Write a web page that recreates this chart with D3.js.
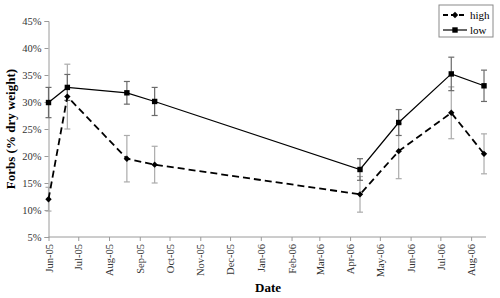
<!DOCTYPE html>
<html>
<head>
<meta charset="utf-8">
<script src="https://cdn.jsdelivr.net/npm/d3@7"></script>
<style>
  body { margin: 0; background: #fff; }
  svg, svg text { font-family: "Liberation Serif", "Times New Roman", serif; }
</style>
</head>
<body>
<div id="chart"></div>
<script>
// sampling dates and forb content (% dry weight), mean and error
const DATES = ['2005-06-01', '2005-06-20', '2005-08-19', '2005-09-16',
               '2006-04-11', '2006-05-20', '2006-07-12', '2006-08-14'];
const HIGH = [12.0, 31.0, 19.5, 18.4, 12.9, 20.9, 28.0, 20.4];
const HIGH_ERR = [2.2, 6.0, 4.3, 3.4, 3.3, 5.1, 4.8, 3.7];
const LOW = [29.9, 32.7, 31.7, 30.1, 17.5, 26.2, 35.2, 33.0];
const LOW_ERR = [2.8, 2.4, 2.1, 2.6, 2.0, 2.4, 3.1, 2.9];
const Y_TICKS = [5, 10, 15, 20, 25, 30, 35, 40, 45];
const X_START = '2005-06-01';
const X_END = '2006-08-16';

const WIDTH = 500;
const HEIGHT = 298;
const PLOT = { left: 48.5, right: 486, top: 21, bottom: 237 };
const AXIS_COLOR = '#9a9a9a';
const FONT = '"Liberation Serif", "Times New Roman", serif';

const parse = d3.timeParse('%Y-%m-%d');

const series = [
  { name: 'high', values: HIGH, errs: HIGH_ERR, dash: '7,4', width: 1.8, marker: 'diamond', errColor: '#ababab' },
  { name: 'low', values: LOW, errs: LOW_ERR, dash: null, width: 1.2, marker: 'square', errColor: '#6a6a6a' }
];

const svg = d3.select('#chart')
  .append('svg')
  .attr('width', WIDTH)
  .attr('height', HEIGHT);

const x = d3.scaleTime()
  .domain([parse(X_START), parse(X_END)])
  .range([PLOT.left, PLOT.right]);

const y = d3.scaleLinear()
  .domain([5, 45])
  .range([PLOT.bottom, PLOT.top]);

// y axis
const yAxis = svg.append('g')
  .attr('transform', `translate(${PLOT.left},0)`)
  .call(d3.axisLeft(y).tickValues(Y_TICKS).tickSize(4).tickPadding(3).tickFormat(d => d + '%'));
yAxis.attr('font-family', null).style('font-family', FONT);
yAxis.selectAll('path, line').attr('stroke', AXIS_COLOR);
yAxis.selectAll('text').attr('font-size', '10.5px').attr('fill', '#333').style('font-family', FONT);

// x axis, monthly ticks
const xAxis = svg.append('g')
  .attr('transform', `translate(0,${PLOT.bottom})`)
  .call(d3.axisBottom(x).ticks(d3.timeMonth.every(1)).tickSize(4).tickFormat(d3.timeFormat('%b-%y')));
xAxis.attr('font-family', null).style('font-family', FONT);
xAxis.select('.domain').attr('d', `M${PLOT.left},0H${PLOT.right}`);
xAxis.selectAll('path, line').attr('stroke', AXIS_COLOR);
xAxis.selectAll('text')
  .attr('font-size', '10.5px')
  .attr('fill', '#333')
  .style('font-family', FONT)
  .attr('text-anchor', 'end')
  .attr('dy', '0.35em')
  .attr('transform', 'translate(0,7) rotate(-90)')
  .attr('x', 0)
  .attr('y', 0);

// axis titles
svg.append('text')
  .attr('x', 268)
  .attr('y', 292)
  .attr('text-anchor', 'middle')
  .attr('font-size', '13px')
  .attr('font-weight', 'bold')
  .text('Date');

svg.append('text')
  .attr('transform', `translate(15,${(PLOT.top + PLOT.bottom) / 2}) rotate(-90)`)
  .attr('text-anchor', 'middle')
  .attr('font-size', '13px')
  .attr('font-weight', 'bold')
  .text('Forbs (% dry weight)');

const points = s => DATES.map((d, i) => ({ date: parse(d), v: s.values[i], e: s.errs[i] }));

// error bars under the lines
series.forEach(s => {
  const g = svg.append('g').attr('stroke', s.errColor).attr('stroke-width', 1.2);
  points(s).forEach(p => {
    const cx = x(p.date);
    g.append('line').attr('x1', cx).attr('x2', cx).attr('y1', y(p.v + p.e)).attr('y2', y(p.v - p.e));
    [p.v + p.e, p.v - p.e].forEach(v => {
      g.append('line').attr('x1', cx - 3).attr('x2', cx + 3).attr('y1', y(v)).attr('y2', y(v));
    });
  });
});

const line = d3.line().x(p => x(p.date)).y(p => y(p.v));

function drawMarker(g, type, cx, cy) {
  if (type === 'square') {
    g.append('rect').attr('x', cx - 2.7).attr('y', cy - 2.7).attr('width', 5.4).attr('height', 5.4).attr('fill', '#000');
  } else {
    g.append('path').attr('d', `M${cx},${cy - 3.2}L${cx + 3.2},${cy}L${cx},${cy + 3.2}L${cx - 3.2},${cy}Z`).attr('fill', '#000');
  }
}

series.forEach(s => {
  svg.append('path')
    .datum(points(s))
    .attr('d', line)
    .attr('fill', 'none')
    .attr('stroke', '#000')
    .attr('stroke-width', s.width)
    .attr('stroke-dasharray', s.dash);
  const mg = svg.append('g');
  points(s).forEach(p => drawMarker(mg, s.marker, x(p.date), y(p.v)));
});

// legend
const legendG = svg.append('g').attr('transform', 'translate(439,5)');
legendG.append('rect')
  .attr('width', 54).attr('height', 32)
  .attr('fill', '#fff').attr('stroke', '#8a8a8a').attr('stroke-width', 1);

series.forEach((s, i) => {
  const row = legendG.append('g').attr('transform', `translate(0,${10 + i * 15})`);
  row.append('line')
    .attr('x1', 4).attr('x2', 28).attr('y1', 0).attr('y2', 0)
    .attr('stroke', '#000').attr('stroke-width', s.width)
    .attr('stroke-dasharray', s.dash ? '5,3' : null);
  drawMarker(row, s.marker, 16, 0);
  row.append('text')
    .attr('x', 31).attr('y', 4)
    .attr('font-size', '11px')
    .text(s.name);
});
</script>
</body>
</html>
